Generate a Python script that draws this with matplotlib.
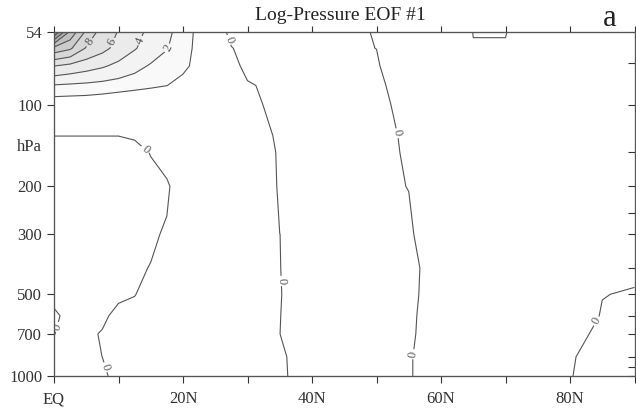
import numpy as np
import matplotlib
matplotlib.use('Agg')
import matplotlib.pyplot as plt

# 格子：緯度 (度) と 気圧 (hPa)
lats = [0, 2.5, 5, 7.5, 10, 12.5, 15, 17.5, 20, 22.5, 25, 27.5, 30,
        35, 40, 45, 50, 55, 60, 65, 70, 75, 80, 85, 90]
pres = [54, 62, 72, 85, 100, 130, 150, 200, 300, 400, 500, 600, 700, 850, 1000]

# EOF1 の値（図から読んだもの）。行 = 気圧, 列 = 緯度
eof1 = [
    # 54 hPa
    [20, 13.5, 9.6, 7.1, 5.9, 4.65, 3.5, 2.5, 1.06, -0.6, -0.22, 0.1, 0.1,
     0.1, 0.1, 0.1, -0.025, -0.5, -16, 0.3, 0.3, -6, -1, -1, -1],
    # 62
    [11.3, 10.3, 7.8, 6.6, 5.3, 4.15, 3.1, 2.1, 0.78, -0.6, -0.5, -0.014, 0.1,
     0.1, 0.1, 0.1, -0.005, -0.5, -1, -0.6, -0.6, -1, -1, -1, -1],
    # 72
    [6.05, 5.45, 4.85, 4.25, 3.5, 2.65, 1.8, 1.07, 0.33, -0.5, -0.5, -0.12, 0.1,
     0.1, 0.1, 0.1, 0.1, -0.83, -1, -1, -1, -1, -1, -1, -1],
    # 85
    [1.86, 1.7, 1.55, 1.35, 1.1, 0.85, 0.5, 0.02, -0.5, -0.6, -0.5, -0.3, -0.035,
     0.1, 0.1, 0.1, 0.1, -0.242, -1, -1, -1, -1, -1, -1, -1],
    # 100
    [-1.43, -1.5, -1.55, -1.8, -2.2, -2.75, -3.3, -2, -1.5, -1, -0.8, -0.5, -0.091,
     0.1, 0.1, 0.1, 0.1, -0.124, -1, -1, -1, -1, -1, -1, -1],
    # 130
    [-0.003, -0.003, -0.003, -0.003, -0.003, -0.035, -0.2, -0.5, -0.6, -0.6, -0.6, -0.5, -0.365,
     0.1, 0.1, 0.1, 0.1, -0.051, -1, -1, -1, -1, -1, -1, -1],
    # 150
    [0.1, 0.1, 0.1, 0.1, 0.1, 0.1, -0.0125, -0.3, -0.6, -0.6, -0.6, -0.6, -0.71,
     0.1, 0.1, 0.1, 0.1, -0.038, -1, -1, -1, -1, -1, -1, -1],
    # 200
    [0.1, 0.1, 0.1, 0.1, 0.1, 0.1, 0.1, 0.1, -0.43, -0.8, -0.8, -0.8, -0.99,
     0.1, 0.1, 0.1, 0.1, -0.01, -1, -1, -1, -1, -1, -1, -1],
    # 300
    [0.1, 0.1, 0.1, 0.1, 0.1, 0.1, 0.1, -0.075, -0.6, -1, -1, -1, -1,
     -0.001, 0.1, 0.1, 0.1, 0.1, -0.54, -1, -1, -1, -1, -1, -1],
    # 400
    [0.1, 0.1, 0.1, 0.1, 0.1, 0.1, -0.0235, -0.5, -1, -1, -1, -1, -1,
     -0.0032, 0.1, 0.1, 0.1, 0.1, -0.19, -1, -1, -1, -1, -1, -0.25],
    # 500
    [0.1, 0.1, 0.1, 0.1, 0.1, 0.1, -1.06, -1, -1, -1, -1, -1, -1,
     -0.0067, 0.1, 0.1, 0.1, 0.1, -0.22, -1, -1, -1, -1, -0.033, 0.1],
    # 600
    [-0.06, 0.1, 0.1, 0.1, -0.15, -1, -1, -1, -1, -1, -1, -1, -1,
     -0.0032, 0.1, 0.1, 0.1, 0.1, -0.3, -1, -1, -1, -0.96, 0.1, 0.1],
    # 700
    [-0.0067, 0.1, 0.1, -0.039, -1, -1, -1, -1, -1, -1, -1, -1, -1,
     -0.001, 0.1, 0.1, 0.1, 0.1, -0.357, -1, -1, -1, -0.146, 0.1, 0.1],
    # 850
    [0.1, 0.1, 0.1, -0.002, -1, -1, -1, -1, -1, -1, -1, -1, -1,
     -0.028, 0.1, 0.1, 0.1, 0.1, -0.7, -1, -1, -1, -0.023, 0.1, 0.1],
    # 1000
    [0.1, 0.1, 0.1, 0.1, -0.18, -1, -1, -1, -1, -1, -1, -1, -1,
     -0.033, 0.1, 0.1, 0.1, 0.1, -0.7, -1, -1, -1, -0.0103, 0.1, 0.1],
]

pos_levels = [2, 4, 6, 8, 10, 12, 14, 16, 18]
fill_levels = [0.15, 2, 4, 6, 8, 10, 12, 14, 16, 18, 24]

ytick_vals = [54, 100, 200, 300, 500, 700, 1000]
right_ticks = [70, 100, 150, 200, 250, 300, 400, 500, 600, 700, 850, 925, 1000]
xtick_vals = [0, 20, 40, 60, 80]
xtick_labels = ['EQ', '20N', '40N', '60N', '80N']

TITLE = 'Log-Pressure EOF #1'

plt.rcParams['font.family'] = ['Liberation Serif', 'DejaVu Serif']

fig = plt.figure(figsize=(6.36, 4.11), dpi=100)
ax = fig.add_axes([54/636, 1-376/411, (634.5-54)/636, (376-32)/411])

ax.set_yscale('log')
ax.set_ylim(1000, 54)
ax.set_xlim(0, 90)

# 塗りつぶし（正の値だけ灰色）
fill_colors = plt.cm.Greys(np.linspace(0.05, 0.52, len(fill_levels)-1))
ax.contourf(lats, pres, eof1, levels=fill_levels, colors=fill_colors)
cs0 = ax.contour(lats, pres, eof1, levels=[0], colors='#555555', linewidths=0.8)
csp = ax.contour(lats, pres, eof1, levels=pos_levels, colors='#555555', linewidths=0.8)

# ラベル位置（緯度, 気圧）
zero_pos = [(26.9, 58), (14.4, 144), (35.3, 446), (53.3, 127), (55.7, 830),
            (0.6, 660), (8.1, 926), (88, 706)]
ax.clabel(cs0, manual=zero_pos, fmt='%d', fontsize=9, inline=True, inline_spacing=2)
ax.clabel(csp, levels=[2, 4, 6, 8], manual=[(17.7, 62), (13.3, 58), (9.1, 59), (5.1, 58)],
          fmt='%d', fontsize=9, inline=True, inline_spacing=2)

ax.set_yticks(ytick_vals)
ax.set_yticklabels([str(v) for v in ytick_vals])
ax.yaxis.set_minor_locator(matplotlib.ticker.NullLocator())
ax.set_xticks(xtick_vals)
ax.set_xticklabels(xtick_labels)
ax.set_xticks([10, 30, 50, 70, 90], minor=True)
ax.tick_params(which='both', direction='out', length=5, width=0.8, labelsize=12, colors='#333333')
ax.tick_params(axis='x', which='both', pad=6)
ax.text(-0.043, 143, 'hPa', transform=ax.get_yaxis_transform(), fontsize=12,
        ha='center', va='center', color='#333333')

# 右と上の目盛り
ax2 = ax.twinx()
ax2.set_yscale('log')
ax2.set_ylim(1000, 54)
ax2.set_yticks(right_ticks)
ax2.yaxis.set_minor_locator(matplotlib.ticker.NullLocator())
ax2.tick_params(direction='in', length=5, width=0.8, labelright=False, colors='#333333')
ax3 = ax.twiny()
ax3.set_xlim(0, 90)
ax3.set_xticks(range(0, 91, 10))
ax3.tick_params(direction='out', length=4, width=0.8, labeltop=False, colors='#333333')

for a in (ax, ax2, ax3):
    for s in a.spines.values():
        s.set_color('#555555')
        s.set_linewidth(0.8)

fig.text(340/636, 1-15/411, TITLE, fontsize=14, ha='center', va='center', color='#222222')
fig.text(610/636, 1-19/411, 'a', fontsize=22, ha='center', va='center', color='#222222')

fig.savefig('out.png', dpi=100)
